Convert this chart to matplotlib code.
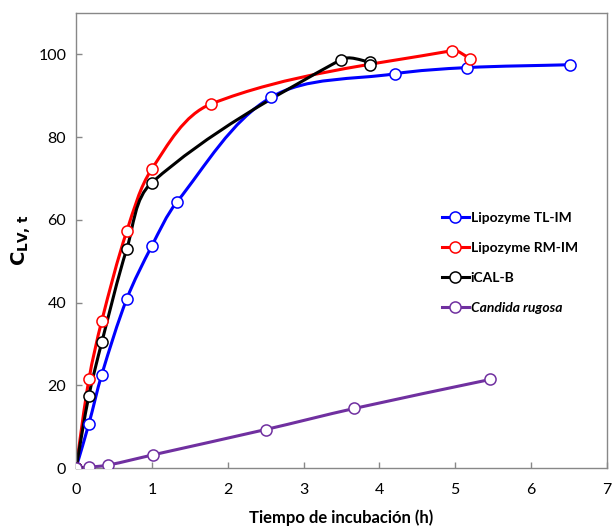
import numpy as np
import matplotlib.pyplot as plt
from matplotlib.path import Path
from matplotlib.patches import PathPatch
from matplotlib.lines import Line2D

# incubation time (h) and C_LV,t for each lipase
t_tl = [0, 0.17, 0.34, 0.67, 1.0, 1.33, 2.57, 4.20, 5.15, 6.52]
c_tl = [0, 10.7, 22.6, 40.9, 53.7, 64.3, 89.6, 95.3, 96.8, 97.5]

t_rm = [0, 0.17, 0.34, 0.67, 1.0, 1.78, 4.96, 5.20]
c_rm = [0, 21.4, 35.6, 57.3, 72.3, 88.0, 100.9, 99.0]

t_cal = [0, 0.17, 0.34, 0.67, 1.0, 3.49, 3.88, 3.88]
c_cal = [0, 17.5, 30.4, 53.0, 69.0, 98.7, 98.1, 97.4]

t_cr = [0, 0.17, 0.42, 1.02, 2.50, 3.67, 5.46]
c_cr = [0, 0.2, 0.7, 3.2, 9.3, 14.4, 21.4]

labels = ["Lipozyme TL-IM", "Lipozyme RM-IM", "iCAL-B", "Candida rugosa"]
colors = ["#0000FF", "#FF0000", "#000000", "#7030A0"]

plt.rcParams["font.family"] = ["Lato", "DejaVu Sans"]

# rough screen scale (px per unit) so the smoothing behaves like on screen
SX, SY = 76.0, 4.14


def smooth_path(x, y, k=0.33):
    # cubic bezier through the points; tangent direction from the neighbours,
    # handle length proportional to the segment length to avoid overshoot
    p = np.column_stack([np.asarray(x) * SX, np.asarray(y) * SY]).astype(float)
    n = len(p)
    tang = []
    for i in range(n):
        a = p[max(i - 1, 0)]
        b = p[min(i + 1, n - 1)]
        d = b - a
        nd = np.hypot(*d)
        tang.append(d / nd if nd > 0 else np.zeros(2))
    verts = [p[0]]
    codes = [Path.MOVETO]
    for i in range(n - 1):
        L = np.hypot(*(p[i + 1] - p[i]))
        c1 = p[i] + tang[i] * L * k
        c2 = p[i + 1] - tang[i + 1] * L * k
        verts += [c1, c2, p[i + 1]]
        codes += [Path.CURVE4] * 3
    v = np.array(verts)
    v[:, 0] /= SX
    v[:, 1] /= SY
    return Path(v, codes)


fig = plt.figure(figsize=(6.13, 5.29), dpi=100)
ax = fig.add_axes([0.124, 0.1153, 0.866, 0.8601])

series = [(t_tl, c_tl), (t_rm, c_rm), (t_cal, c_cal), (t_cr, c_cr)]
for (t, c), col in zip(series, colors):
    ax.add_patch(PathPatch(smooth_path(t, c), fill=False, edgecolor=col,
                           lw=2.2, zorder=2, capstyle="round"))
    ax.plot(t, c, ls="none", marker="o", ms=8, mfc="white", mec=col,
            mew=1.1, zorder=3)

ax.set_xlim(0, 7)
ax.set_ylim(0, 110)
ax.set_xticks(range(0, 8))
ax.set_yticks(range(0, 101, 20))
ax.tick_params(direction="in", length=4, width=1, color="#888888",
               labelsize=11.5)
ax.tick_params(axis="x", pad=11)
ax.tick_params(axis="y", pad=7)
for s in ax.spines.values():
    s.set_color("#888888")
    s.set_linewidth(1)

ax.set_xlabel("Tiempo de incubación (h)", fontsize=12, fontweight="bold",
              labelpad=9)
ax.set_ylabel(r"$\mathbf{C_{LV,\,t}}$", fontsize=14, labelpad=4)

handles = [Line2D([], [], color=col, lw=2.2, marker="o", ms=8, mfc="white",
                  mec=col, mew=1.1) for col in colors]
leg = ax.legend(handles, labels, loc="upper left",
                bbox_to_anchor=(0.665, 0.59), frameon=False, fontsize=10,
                handlelength=2.0, handletextpad=0.1, labelspacing=1.3)
for i, txt in enumerate(leg.get_texts()):
    txt.set_fontweight("bold")
    if i == 3:
        txt.set_fontstyle("italic")

fig.savefig("out.png", dpi=100)
